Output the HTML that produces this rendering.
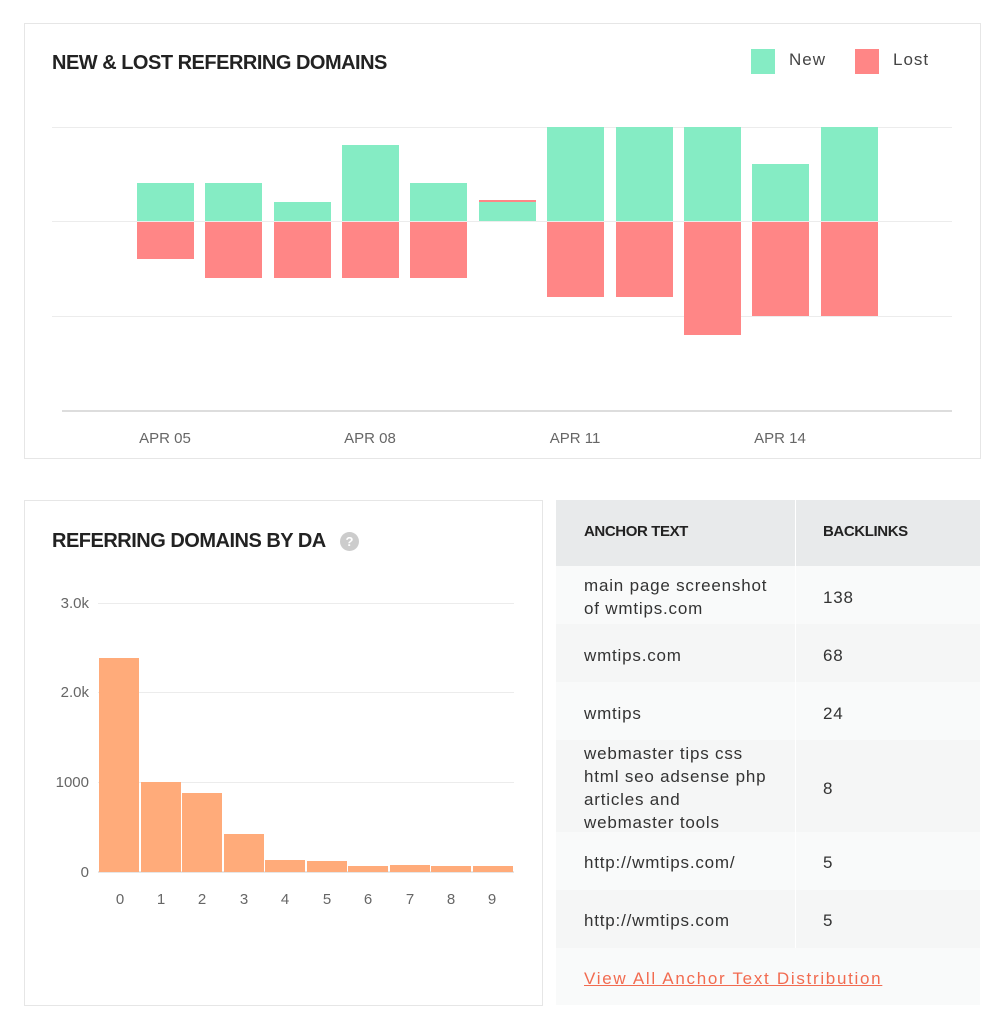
<!DOCTYPE html>
<html><head><meta charset="utf-8"><style>
body{margin:0;width:1005px;height:1029px;background:#fff;position:relative;font-family:"Liberation Sans",sans-serif;overflow:hidden}
.a{position:absolute}
.card{position:absolute;border:1px solid #e6e6e6;background:#fff;box-sizing:border-box}
.t{position:absolute;font-weight:bold;font-size:20px;color:#222;letter-spacing:-0.5px}
.g{position:absolute;height:1px;background:#ececec}
.row{position:absolute;left:556px;width:424px}
.cell{position:absolute;font-size:17px;color:#333;line-height:23px;letter-spacing:0.8px}
</style></head><body>
<div class="card" style="left:24px;top:23px;width:957px;height:436px"></div>
<div class="t" style="left:52px;top:52px">NEW &amp; LOST REFERRING DOMAINS</div>
<div class="a" style="left:751px;top:49px;width:24px;height:25px;background:#85ecc4"></div>
<div class="a" style="left:789px;top:50px;font-size:17px;color:#444;letter-spacing:1px">New</div>
<div class="a" style="left:855px;top:49px;width:24px;height:25px;background:#ff8686"></div>
<div class="a" style="left:893px;top:50px;font-size:17px;color:#444;letter-spacing:1px">Lost</div>
<div class="g" style="left:52px;top:127px;width:900px"></div>
<div class="g" style="left:52px;top:221px;width:900px"></div>
<div class="g" style="left:52px;top:316px;width:900px"></div>
<div class="a" style="left:62px;top:410px;width:890px;height:2px;background:#ddd"></div>
<svg class="a" style="left:0;top:0" width="1005" height="460">
<g fill="#85ecc4">
<rect x="137" y="183" width="57" height="38"/><rect x="205" y="183" width="57" height="38"/><rect x="274" y="202" width="57" height="19"/><rect x="342" y="145" width="57" height="76"/><rect x="410" y="183" width="57" height="38"/><rect x="479" y="202" width="57" height="19"/><rect x="547" y="127" width="57" height="94"/><rect x="616" y="127" width="57" height="94"/><rect x="684" y="127" width="57" height="94"/><rect x="752" y="164" width="57" height="57"/><rect x="821" y="127" width="57" height="94"/>
</g>
<g fill="#ff8686">
<rect x="479" y="200" width="57" height="2"/>
<rect x="137" y="222" width="57" height="37"/><rect x="205" y="222" width="57" height="56"/><rect x="274" y="222" width="57" height="56"/><rect x="342" y="222" width="57" height="56"/><rect x="410" y="222" width="57" height="56"/><rect x="547" y="222" width="57" height="75"/><rect x="616" y="222" width="57" height="75"/><rect x="684" y="222" width="57" height="113"/><rect x="752" y="222" width="57" height="94"/><rect x="821" y="222" width="57" height="94"/>
</g>
<g font-family="Liberation Sans" font-size="15" fill="#666" text-anchor="middle">
<text x="165" y="443">APR 05</text><text x="370" y="443">APR 08</text><text x="575" y="443">APR 11</text><text x="780" y="443">APR 14</text>
</g>
</svg>

<div class="card" style="left:24px;top:500px;width:519px;height:506px"></div>
<div class="t" style="left:52px;top:530px">REFERRING DOMAINS BY DA</div>
<div class="a" style="left:340px;top:532px;width:19px;height:19px;border-radius:50%;background:#ccc;color:#fff;font-size:13px;font-weight:bold;text-align:center;line-height:19px">?</div>
<svg class="a" style="left:0;top:500px" width="560" height="420">
<g stroke="#ececec"><line x1="98" x2="514" y1="103.5" y2="103.5"/><line x1="98" x2="514" y1="192.5" y2="192.5"/><line x1="98" x2="514" y1="282.5" y2="282.5"/></g>
<line x1="98" x2="514" y1="372" y2="372" stroke="#ccc"/>
<g font-family="Liberation Sans" font-size="15" fill="#666" text-anchor="end">
<text x="89" y="108">3.0k</text><text x="89" y="197">2.0k</text><text x="89" y="287">1000</text><text x="89" y="377">0</text>
</g>
<g fill="#ffab7a">
<rect x="99" y="158" width="40" height="214"/><rect x="141" y="282" width="40" height="90"/><rect x="182" y="293" width="40" height="79"/><rect x="224" y="334" width="40" height="38"/><rect x="265" y="360" width="40" height="12"/><rect x="307" y="361" width="40" height="11"/><rect x="348" y="366" width="40" height="6"/><rect x="390" y="365" width="40" height="7"/><rect x="431" y="366" width="40" height="6"/><rect x="473" y="366" width="40" height="6"/>
</g>
<g font-family="Liberation Sans" font-size="15" fill="#666" text-anchor="middle">
<text x="120" y="404">0</text><text x="161" y="404">1</text><text x="202" y="404">2</text><text x="244" y="404">3</text><text x="285" y="404">4</text><text x="327" y="404">5</text><text x="368" y="404">6</text><text x="410" y="404">7</text><text x="451" y="404">8</text><text x="492" y="404">9</text>
</g>
</svg>

<div class="row" style="top:500px;height:66px;background:#e8eaeb"></div>
<div class="row" style="top:566px;height:58px;background:#f9fafa"></div>
<div class="row" style="top:624px;height:58px;background:#f5f6f6"></div>
<div class="row" style="top:682px;height:58px;background:#f9fafa"></div>
<div class="row" style="top:740px;height:92px;background:#f5f6f6"></div>
<div class="row" style="top:832px;height:58px;background:#f9fafa"></div>
<div class="row" style="top:890px;height:58px;background:#f5f6f6"></div>
<div class="row" style="top:948px;height:57px;background:#f9fafa"></div>
<div class="a" style="left:795px;top:500px;width:1px;height:448px;background:#fff"></div>
<div class="a" style="left:584px;top:523px;font-size:15px;font-weight:bold;color:#222;letter-spacing:-0.4px">ANCHOR TEXT</div>
<div class="a" style="left:823px;top:523px;font-size:15px;font-weight:bold;color:#222;letter-spacing:-0.4px">BACKLINKS</div>
<div class="cell" style="left:584px;top:574px">main page screenshot<br>of wmtips.com</div>
<div class="cell" style="left:823px;top:586px">138</div>
<div class="cell" style="left:584px;top:644px">wmtips.com</div>
<div class="cell" style="left:823px;top:644px">68</div>
<div class="cell" style="left:584px;top:702px">wmtips</div>
<div class="cell" style="left:823px;top:702px">24</div>
<div class="cell" style="left:584px;top:742px">webmaster tips css<br>html seo adsense php<br>articles and<br>webmaster tools</div>
<div class="cell" style="left:823px;top:777px">8</div>
<div class="cell" style="left:584px;top:851px">http://wmtips.com/</div>
<div class="cell" style="left:823px;top:851px">5</div>
<div class="cell" style="left:584px;top:909px">http://wmtips.com</div>
<div class="cell" style="left:823px;top:909px">5</div>
<div class="cell" style="left:584px;top:967px;color:#f26b50;text-decoration:underline;letter-spacing:1.7px">View All Anchor Text Distribution</div>
</body></html>
